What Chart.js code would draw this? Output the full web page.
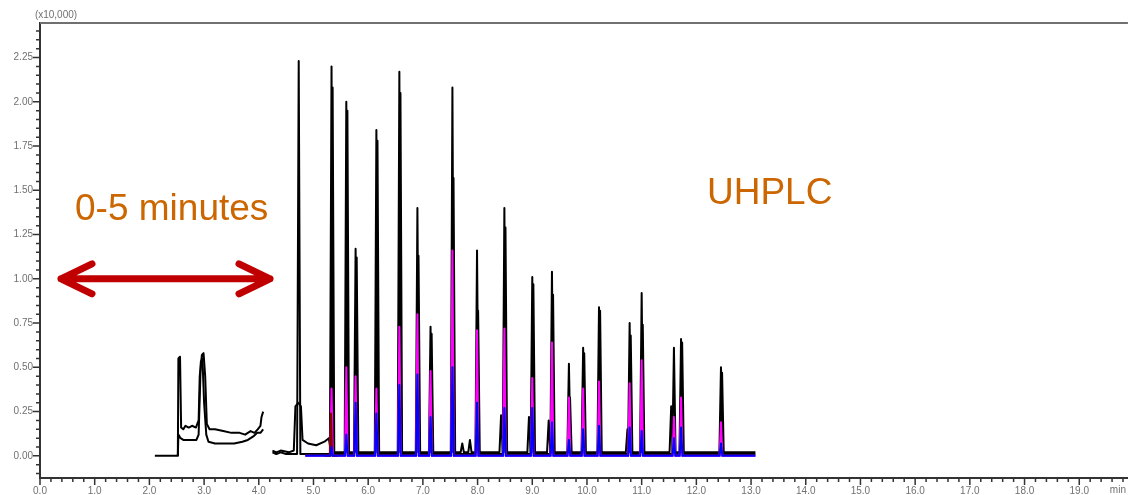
<!DOCTYPE html>
<html>
<head>
<meta charset="utf-8">
<title>UHPLC chromatogram</title>
<script src="https://cdn.jsdelivr.net/npm/chart.js@4.4.1/dist/chart.umd.min.js"></script>
<style>
  html, body { margin: 0; padding: 0; background: #fff; }
  canvas { display: block; }
</style>
</head>
<body>
<canvas id="chromatogram" width="1130" height="495"></canvas>
<script>
// axis text
const xTickLabels = ['0.0', '1.0', '2.0', '3.0', '4.0', '5.0', '6.0', '7.0', '8.0', '9.0',
  '10.0', '11.0', '12.0', '13.0', '14.0', '15.0', '16.0', '17.0', '18.0', '19.0'];
const yTickLabels = ['0.00', '0.25', '0.50', '0.75', '1.00', '1.25', '1.50', '1.75', '2.00', '2.25'];
const xUnit = 'min';
const yMultiplier = '(x10,000)';
const rangeNote = '0-5 minutes';
const methodNote = 'UHPLC';

// black runs before the gap at ~4.1 min: [time, signal]
const earlyRunA = [[2.10, 0.00], [2.52, 0.00], [2.53, 0.55], [2.56, 0.56], [2.58, 0.16], [2.62, 0.15],
  [2.66, 0.17], [2.72, 0.16], [2.78, 0.17], [2.85, 0.16], [2.90, 0.20], [2.92, 0.45], [2.96, 0.57],
  [2.99, 0.58], [3.02, 0.45], [3.05, 0.18], [3.10, 0.15], [3.20, 0.15], [3.35, 0.14], [3.50, 0.13],
  [3.65, 0.13], [3.75, 0.12], [3.85, 0.14], [3.92, 0.13], [3.98, 0.15], [4.03, 0.17], [4.05, 0.22],
  [4.08, 0.25]];
const earlyRunB = [[2.52, 0.00], [2.53, 0.12], [2.57, 0.10], [2.62, 0.09], [2.75, 0.09], [2.86, 0.09],
  [2.90, 0.12], [2.94, 0.53], [2.97, 0.55], [3.00, 0.30], [3.04, 0.12], [3.08, 0.08], [3.20, 0.07],
  [3.40, 0.07], [3.55, 0.07], [3.70, 0.08], [3.80, 0.09], [3.90, 0.11], [3.97, 0.13], [4.03, 0.13],
  [4.08, 0.15]];

// baseline after the gap, up to the first main peak
const leadRunA = [[4.25, 0.02], [4.32, 0.01], [4.40, 0.02], [4.50, 0.01], [4.68, 0.01]];
const leadRunB = [[4.25, 0.03], [4.32, 0.02], [4.40, 0.03], [4.55, 0.02], [4.64, 0.03], [4.67, 0.28],
  [4.72, 0.30], [4.77, 0.28], [4.80, 0.09], [4.90, 0.07], [5.05, 0.06], [5.20, 0.08], [5.28, 0.10]];

// main peaks: retention time (min) and apex height (x10,000)
const runATimes = [4.73, 5.33, 5.60, 5.77, 6.15, 6.57, 6.90, 7.14, 7.54, 7.99, 8.49, 9.00, 9.36, 9.67,
  9.93, 10.22, 10.78, 11.00, 11.59, 11.72, 12.45];
const runAHeights = [2.23, 2.20, 2.00, 1.17, 1.84, 2.17, 1.40, 0.73, 2.08, 1.16, 1.40, 1.01, 1.04, 0.52,
  0.61, 0.84, 0.75, 0.92, 0.61, 0.66, 0.50];
const runBTimes = [5.35, 5.62, 5.79, 6.17, 6.59, 6.92, 7.16, 7.56, 7.72, 7.86, 8.01, 8.43, 8.51, 8.94,
  9.02, 9.30, 9.38, 9.69, 9.95, 10.24, 10.74, 10.80, 11.02, 11.54, 11.74, 12.47];
const runBHeights = [2.08, 1.95, 1.12, 1.78, 2.05, 1.13, 0.69, 1.57, 0.07, 0.09, 0.82, 0.23, 1.29, 0.22,
  0.97, 0.20, 0.91, 0.33, 0.58, 0.82, 0.15, 0.68, 0.74, 0.28, 0.64, 0.47];
const colourTimes = [5.33, 5.60, 5.77, 6.15, 6.57, 6.90, 7.14, 7.54, 7.99, 8.49, 9.00, 9.36, 9.67, 9.93,
  10.22, 10.78, 11.00, 11.59, 11.72, 12.45];
const magentaHeights = [0.38, 0.50, 0.45, 0.38, 0.73, 0.80, 0.48, 1.16, 0.71, 0.72, 0.44, 0.64, 0.33,
  0.38, 0.42, 0.41, 0.54, 0.22, 0.33, 0.19];
const blueHeights = [0.05, 0.12, 0.30, 0.24, 0.40, 0.46, 0.22, 0.50, 0.30, 0.27, 0.27, 0.19, 0.09, 0.15,
  0.17, 0.16, 0.14, 0.10, 0.16, 0.07];
const redTimes = [5.32];
const redHeights = [0.24];

// baseline levels and run limits
const runABase = 0.01;
const runBBase = 0.02;
const colourBase = 0.0;
const colourStart = 4.85;
const runEnd = 13.08;

const pairs = list => list.map(([x, y]) => ({ x, y }));

// each peak is drawn as a narrow spike standing on the trace baseline
function peaks(times, heights, base, halfWidth) {
  const pts = [];
  times.forEach((t, i) => {
    pts.push({ x: t - halfWidth, y: base }, { x: t, y: heights[i] }, { x: t + halfWidth, y: base });
  });
  return pts;
}

const gap = { x: 4.16, y: null };

const runA = [...pairs(earlyRunA), gap, ...pairs(leadRunA),
  ...peaks(runATimes, runAHeights, runABase, 0.03), { x: runEnd, y: runABase }];
const runB = [...pairs(earlyRunB), gap, ...pairs(leadRunB),
  ...peaks(runBTimes, runBHeights, runBBase, 0.03), { x: runEnd, y: runBBase }];
const magenta = [{ x: colourStart, y: colourBase },
  ...peaks(colourTimes, magentaHeights, colourBase, 0.025), { x: runEnd, y: colourBase }];
const blue = [{ x: colourStart, y: colourBase },
  ...peaks(colourTimes, blueHeights, colourBase, 0.025), { x: runEnd, y: colourBase }];
const red = [{ x: 5.20, y: colourBase },
  ...peaks(redTimes, redHeights, colourBase, 0.02), { x: 5.45, y: colourBase }];

function line(data, color, width) {
  return {
    data: data,
    borderColor: color,
    borderWidth: width,
    borderJoinStyle: 'round',
    pointRadius: 0,
    tension: 0,
    fill: false,
    spanGaps: false
  };
}

function labelFor(labels, v) {
  const hit = labels.find(l => Math.abs(parseFloat(l) - v) < 1e-6);
  return hit || '';
}

const tickFont = { family: 'Liberation Sans', size: 10 };
const tickColor = '#707070';

// frame, tick marks and the notes over the plot
const framePlugin = {
  id: 'frame',
  afterDraw(chart) {
    const { ctx, chartArea: a, scales: { x, y } } = chart;
    ctx.save();

    ctx.strokeStyle = '#707070';
    ctx.lineWidth = 2;
    ctx.beginPath();
    ctx.moveTo(a.left, a.top);
    ctx.lineTo(a.right, a.top);
    ctx.stroke();

    ctx.strokeStyle = '#333';
    ctx.lineWidth = 1.5;
    ctx.beginPath();
    x.ticks.forEach(t => {
      const px = x.getPixelForValue(t.value);
      const len = t.label ? 7 : 4;
      ctx.moveTo(px, a.bottom);
      ctx.lineTo(px, a.bottom + len);
    });
    y.ticks.forEach(t => {
      const py = y.getPixelForValue(t.value);
      const len = t.label ? 7 : 4;
      ctx.moveTo(a.left, py);
      ctx.lineTo(a.left - len, py);
    });
    ctx.stroke();

    ctx.fillStyle = tickColor;
    ctx.font = '10px "Liberation Sans"';
    ctx.textAlign = 'center';
    ctx.textBaseline = 'top';
    ctx.fillText(xUnit, a.right - 10, a.bottom + 7);
    ctx.textBaseline = 'middle';
    ctx.fillText(yMultiplier, a.left + 16, 15);

    ctx.fillStyle = '#CC6600';
    ctx.font = '37px "Liberation Sans"';
    ctx.textAlign = 'left';
    ctx.textBaseline = 'alphabetic';
    ctx.fillText(rangeNote, 75, 220);
    ctx.fillText(methodNote, 707, 204);

    // double-headed arrow across the first minutes
    const y1 = y.getPixelForValue(1.0);
    const left = 61, right = 270, head = 31, spread = 15;
    ctx.strokeStyle = '#C00000';
    ctx.lineWidth = 7;
    ctx.lineCap = 'round';
    ctx.lineJoin = 'round';
    ctx.beginPath();
    ctx.moveTo(left, y1);
    ctx.lineTo(right, y1);
    ctx.moveTo(left + head, y1 - spread);
    ctx.lineTo(left, y1);
    ctx.lineTo(left + head, y1 + spread);
    ctx.moveTo(right - head, y1 - spread);
    ctx.lineTo(right, y1);
    ctx.lineTo(right - head, y1 + spread);
    ctx.stroke();

    ctx.restore();
  }
};

new Chart(document.getElementById('chromatogram'), {
  type: 'line',
  data: {
    datasets: [
      line(blue, '#0000FF', 2),
      line(red, '#8B0000', 2),
      line(magenta, '#FF00FF', 2),
      line(runB, '#000000', 2),
      line(runA, '#000000', 2)
    ]
  },
  options: {
    responsive: false,
    animation: false,
    events: [],
    layout: { padding: { top: 23, right: 0, left: 0, bottom: 0 } },
    plugins: { legend: { display: false }, tooltip: { enabled: false } },
    scales: {
      x: {
        type: 'linear',
        min: 0,
        max: 19.89,
        afterFit: s => { s.height = 17; },
        grid: { display: false, drawTicks: false },
        border: { display: true, color: '#333', width: 2 },
        ticks: {
          stepSize: 0.2,
          includeBounds: false,
          autoSkip: false,
          maxRotation: 0,
          padding: 7,
          color: tickColor,
          font: tickFont,
          callback: v => labelFor(xTickLabels, v)
        }
      },
      y: {
        type: 'linear',
        min: -0.125,
        max: 2.445,
        afterFit: s => { s.width = 40; },
        grid: { display: false, drawTicks: false },
        border: { display: true, color: '#333', width: 2 },
        ticks: {
          stepSize: 0.05,
          includeBounds: false,
          autoSkip: false,
          padding: 7,
          color: tickColor,
          font: tickFont,
          callback: v => labelFor(yTickLabels, v)
        }
      }
    }
  },
  plugins: [framePlugin]
});
</script>
</body>
</html>
